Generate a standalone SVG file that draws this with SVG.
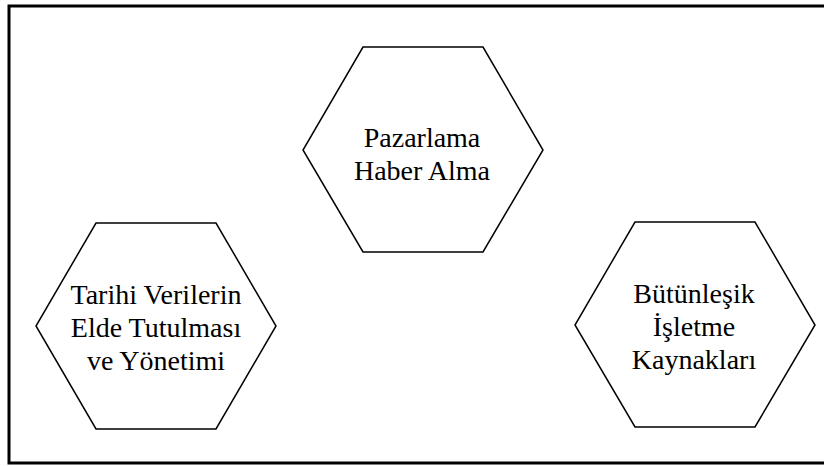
<svg xmlns="http://www.w3.org/2000/svg" width="824" height="466" viewBox="0 0 824 466">
<style>
.hex{fill:none;stroke:#000;stroke-width:1.5;stroke-linejoin:miter}
.frame{fill:none;stroke:#000;stroke-width:3}
text{font-family:"Liberation Serif","Times New Roman",serif;font-size:28px;fill:#000;text-anchor:middle}
</style>
<rect width="824" height="466" fill="#fff"/>
<rect class="frame" x="9" y="6" width="830" height="457"/>
<g id="node-pazarlama">
<polygon class="hex" points="363,47 483,47 543,150 483,252 363,252 303,150"/>
<text x="422" y="147">Pazarlama</text>
<text x="422" y="180">Haber Alma</text>
</g>
<g id="node-tarihi">
<polygon class="hex" points="96,223 216,223 276,326 216,429 96,429 36,326"/>
<text x="156" y="304">Tarihi Verilerin</text>
<text x="156" y="337">Elde Tutulması</text>
<text x="156" y="370">ve Yönetimi</text>
</g>
<g id="node-butunlesik">
<polygon class="hex" points="635,222 755,222 815,325 755,427 635,427 575,325"/>
<text x="694" y="303">Bütünleşik</text>
<text x="694" y="336">İşletme</text>
<text x="694" y="369">Kaynakları</text>
</g>
<g id="connectors"></g>
</svg>
